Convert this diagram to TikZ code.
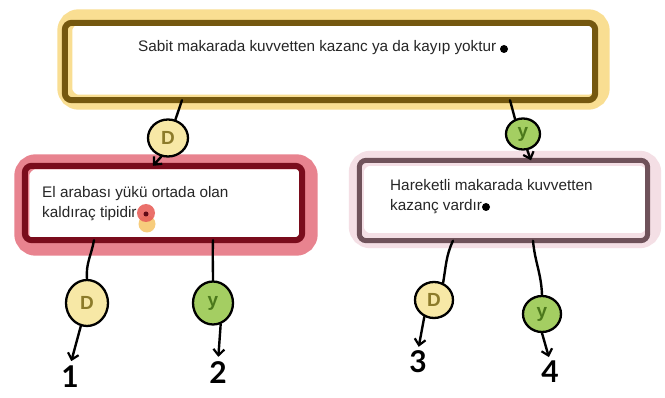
\documentclass[tikz,border=0pt]{standalone}
\usepackage{fontspec}
\setmainfont{Liberation Sans}
\newfontfamily\handfont{Lato}
\usetikzlibrary{calc,arrows.meta,shapes.geometric}
\definecolor{tophalo}{HTML}{F9DE92}
\definecolor{topline}{HTML}{75580F}
\definecolor{lefthalo}{HTML}{E8838F}
\definecolor{leftline}{HTML}{7A0C1C}
\definecolor{righthalo}{HTML}{F4DFE5}
\definecolor{rightline}{HTML}{6F525A}
\definecolor{dfill}{HTML}{F7E8A6}
\definecolor{dtext}{HTML}{8C7B2A}
\definecolor{yfill}{HTML}{A4CE62}
\definecolor{ytext}{HTML}{4B781B}
\definecolor{reddot}{HTML}{E8615B}
\definecolor{orangedot}{HTML}{F6C466}
\tikzset{
  boxshape/.style={rectangle, rounded corners=7pt, minimum width=#1, inner sep=0pt},
  halo/.style={line width=15pt, rounded corners=14pt},
  txt/.style={font=\fontsize{15.3}{19.5}\selectfont, text=black!85, inner sep=0pt, align=left},
  dnode/.style={ellipse, draw=black, line width=2.3pt, fill=dfill, text=dtext, inner sep=0pt,
     font=\fontsize{19}{19}\selectfont\bfseries},
  ynode/.style={ellipse, draw=black, line width=2.3pt, fill=yfill, text=ytext, inner sep=0pt,
     font=\fontsize{19}{19}\selectfont\bfseries},
  num/.style={font=\handfont\bfseries\fontsize{30}{30}\selectfont, inner sep=0pt},
  conn/.style={line width=2.4pt, line cap=round, black},
  arr/.style={conn, -{Straight Barb[length=6pt,width=11pt,line width=2.2pt]}},
  dotnode/.style={circle, fill=black, inner sep=0pt, minimum size=8pt},
}
\begin{document}
\begin{tikzpicture}[x=1pt,y=-1pt]
\fill[white] (0,0) rectangle (665,398);
\useasboundingbox (0,0) rectangle (665,398);

% boxes
\node[boxshape=530pt, minimum height=77pt] (top) at (330,61.5) {};
\node[boxshape=277pt, minimum height=74pt] (left) at (163.5,203) {};
\node[boxshape=288pt, minimum height=80pt] (right) at (503.5,200.5) {};

% halos
\draw[halo, tophalo] ($(top.north west)+(0,-6)$) rectangle ($(top.south east)+(7,2)$);
\draw[halo, lefthalo] ($(left.north west)+(-3,-4)$) rectangle ($(left.south east)+(8,8)$);
\draw[halo, righthalo] ($(right.north west)+(-3,-2)$) rectangle ($(right.south east)+(6,0)$);

% borders
\draw[line width=6pt, topline, rounded corners=7pt] (top.north west) rectangle (top.south east);
\draw[line width=6pt, leftline, rounded corners=7pt] (left.north west) rectangle (left.south east);
\draw[line width=5pt, rightline, rounded corners=7pt] (right.north west) rectangle (right.south east);

% texts
\node[txt, anchor=base west] (toptxt) at (138,52) {Sabit makarada kuvvetten kazanc ya da kayıp yoktur};
\node[txt, anchor=base west] (lefttxt) at (42,217.5) {El arabası yükü ortada olan\\kaldıraç tipidir};
\node[txt, anchor=base west] (righttxt) at (390,210.5) {Hareketli makarada kuvvetten\\kazanç vardır};

% dots
\node[dotnode] (topdot) at (504,49) {};
\node[dotnode] (rightdot) at (486,207) {};
\node[circle, fill=orangedot, opacity=0.85, inner sep=0pt, minimum size=17pt] (odot) at (147,224) {};
\node[circle, fill=reddot, opacity=0.9, inner sep=0pt, minimum size=18pt] (rdot) at (146,213) {};
\node[circle, fill=leftline!80!black, inner sep=0pt, minimum size=5pt] (cdot) at (146,214) {};

% circles
\node[dnode, minimum width=40pt, minimum height=37pt] (d1) at (168,138) {D};
\node[ynode, minimum width=34pt, minimum height=31pt] (y1) at (523,134) {y};
\node[dnode, minimum width=42pt, minimum height=46pt] (d2) at (87,303) {D};
\node[ynode, minimum width=40pt, minimum height=43pt] (y2) at (213,303) {y};
\node[dnode, minimum width=38pt, minimum height=36pt] (d3) at (434,300) {D};
\node[ynode, minimum width=38pt, minimum height=36pt] (y3) at (542,314) {y};

% numbers
\node[num] (n1) at (70,377) {1};
\node[num] (n2) at (218,373) {2};
\node[num] (n3) at (418,362) {3};
\node[num] (n4) at (550,372) {4};

% connectors
\draw[conn] ($(top.south west)!(182,0)!(top.south east)$) -- (d1.68);
\draw[arr] (d1.250) -- ($(left.north west)!(153,0)!(left.north east)$);
\draw[conn] ($(top.south west)!(510,0)!(top.south east)$) -- (y1.118);
\draw[arr] (y1.285) -- ($(right.north west)!(531,0)!(right.north east)$);

\draw[conn] ($(left.south west)!(94,0)!(left.south east)$) to[out=-100,in=95] (d2.north);
\draw[conn] ($(left.south west)!(213,0)!(left.south east)$) to[out=-92,in=90] (y2.north);
\draw[conn] ($(right.south west)!(453,0)!(right.south east)$) to[out=-115,in=80] (d3.62);
\draw[conn] ($(right.south west)!(533,0)!(right.south east)$) to[out=-85,in=92] (y3.north);

\draw[arr, shorten >=5pt] (d2.255) -- (n1.north);
\draw[arr, shorten >=5pt] (y2.290) -- (n2.north);
\draw[arr, shorten >=4pt] (d3.240) -- (n3.north);
\draw[arr, shorten >=4pt] (y3.south) -- (n4.north);
\end{tikzpicture}
\end{document}
